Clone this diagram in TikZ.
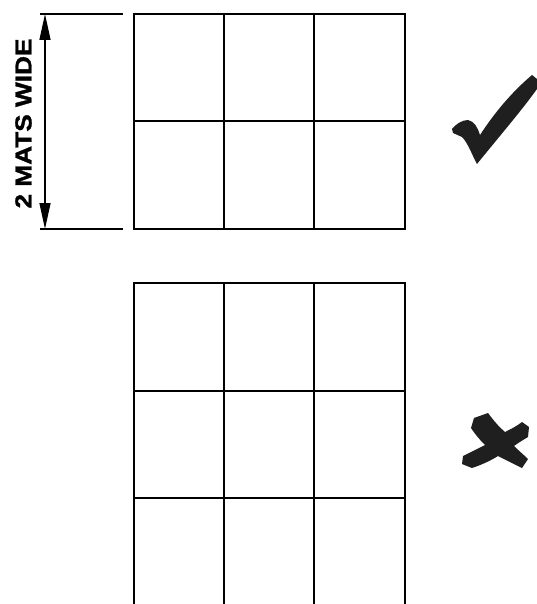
\documentclass[tikz,border=0pt]{standalone}
\usepackage{fontspec}
\usepackage{graphicx}
\usepackage{tikz}
\newfontfamily\dimfont{Liberation Sans}[BoldFeatures={FakeBold=1.3}]
\usetikzlibrary{arrows.meta}

\begin{document}
\begin{tikzpicture}[
  x=1pt, y=-1pt,
  grid/.style={line width=1.9pt, line cap=rect},
  ext/.style={line width=1.4pt},
  dim/.style={line width=1.4pt, {Triangle[length=26pt,width=11pt]}-{Triangle[length=26pt,width=11pt]}},
  dimlabel/.style={font=\dimfont\bfseries\fontsize{23}{23}\selectfont, inner sep=0pt},
  tickmark/.style={fill=black!88, draw=none}]
  \useasboundingbox (0,0) rectangle (537,604);
  % good layout (upper grid)
  \draw[grid] (134,14) rectangle (405,229);
  \draw[grid] (134,121) -- (405,121);
  \draw[grid] (224,14) -- (224,229);
  \draw[grid] (314,14) -- (314,229);
  % dimension
  \coordinate (dimtop) at (45,14);
  \coordinate (dimbot) at (45,229);
  \draw[ext] (40,14) -- (123,14);
  \draw[ext] (40,229) -- (123,229);
  \draw[dim] (dimtop) -- (dimbot);
  \node[dimlabel, rotate=90] (dimtext) at (23.5,123.5) {\scalebox{1.14}[1]{2 MATS WIDE}};
  % tick
  \fill[tickmark] (452,129) .. controls (456,124) and (462,120) .. (468,120)
    .. controls (474,121) and (478,128) .. (480,135)
    .. controls (495,112) and (512,92) .. (532,75)
    -- (537,79) -- (537,89)
    .. controls (522,110) and (498,138) .. (477,164)
    .. controls (472,155) and (468,143) .. (462,137)
    -- (453,133) -- cycle;
  % bad layout (lower grid, open at the bottom)
  \draw[grid] (134,604) -- (134,283) -- (405,283) -- (405,604);
  \draw[grid] (224,283) -- (224,604);
  \draw[grid] (314,283) -- (314,604);
  \draw[grid] (134,391) -- (405,391);
  \draw[grid] (134,498) -- (405,498);
  % cross
  \fill[tickmark] (474,418) -- (488,413)
    .. controls (494,421) and (499,427) .. (505,432)
    .. controls (511,429) and (517,426) .. (522,422)
    -- (529,427) -- (528,437)
    .. controls (523,440) and (518,443) .. (514,446)
    .. controls (519,451) and (524,455) .. (528,459)
    -- (522,468)
    .. controls (514,464) and (506,460) .. (498,456)
    .. controls (490,461) and (481,465) .. (472,468)
    -- (462,464) -- (463,456)
    .. controls (471,452) and (479,448) .. (485,445)
    .. controls (479,439) and (475,434) .. (471,428)
    -- cycle;
\end{tikzpicture}
\end{document}
